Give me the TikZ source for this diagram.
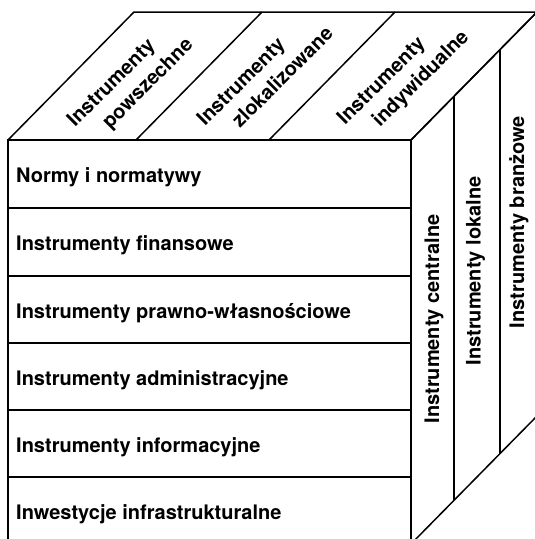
\documentclass[tikz,border=0pt]{standalone}
\usepackage{fontspec}
\setmainfont{TeX Gyre Heros}
\begin{document}
\begin{tikzpicture}[x=1pt,y=-1pt,
  edge/.style={line width=1.5pt, line join=miter},
  lab/.style={inner sep=0pt, font=\fontsize{20}{24}\selectfont\bfseries},
  rowlabel/.style={lab, anchor=base west},
  toplabel/.style={lab, rotate=45, anchor=base west},
  sidelabel/.style={lab, rotate=90, anchor=base}]
\useasboundingbox (0,0) rectangle (535,539);
\clip (0,0) rectangle (535,539);
% corners
\coordinate (FTL) at (8,140);
\coordinate (FTR) at (411,140);
\coordinate (FBL) at (8,544);
\coordinate (FBR) at (411,544);
\coordinate (BTL) at (134,12);
\coordinate (BTR) at (537,12);
\coordinate (BBR) at (537,416);
% top face
\draw[edge] (FTL) -- (BTL) -- (BTR) -- (FTR);
\draw[edge] (136,140) -- (262,12);
\draw[edge] (269,140) -- (395,12);
% right face
\draw[edge] (FTR) -- (BTR) -- (BBR) -- (FBR);
\draw[edge] (454,96.3) -- (454,500.3);
\draw[edge] (500,49.6) -- (500,453.6);
% front face
\draw[edge] (FTL) rectangle (FBR);
\foreach \y in {208,276,343,410,477} \draw[edge] (8,\y) -- (411,\y);
% row labels
\node[rowlabel] (r1) at (16,182.5) {Normy i normatywy};
\node[rowlabel] (r2) at (16,250.5) {Instrumenty finansowe};
\node[rowlabel] (r3) at (16,318.5) {Instrumenty prawno-własnościowe};
\node[rowlabel] (r4) at (16,385.5) {Instrumenty administracyjne};
\node[rowlabel] (r5) at (16,452.5) {Instrumenty informacyjne};
\node[rowlabel] (r6) at (16,519.5) {Inwestycje infrastrukturalne};
% top labels
\node[toplabel] (t1a) at (75,128) {Instrumenty};
\node[toplabel] (t1b) at (110,130) {powszechne};
\node[toplabel] (t2a) at (205,127) {Instrumenty};
\node[toplabel] (t2b) at (240,129) {zlokalizowane};
\node[toplabel] (t3a) at (345,126) {Instrumenty};
\node[toplabel] (t3b) at (380,128) {indywidualne};
% side labels
\node[sidelabel] (s1) at (439,319) {Instrumenty centralne};
\node[sidelabel] (s2) at (480.5,271) {Instrumenty lokalne};
\node[sidelabel] (s3) at (524,222) {Instrumenty branżowe};
\end{tikzpicture}
\end{document}
